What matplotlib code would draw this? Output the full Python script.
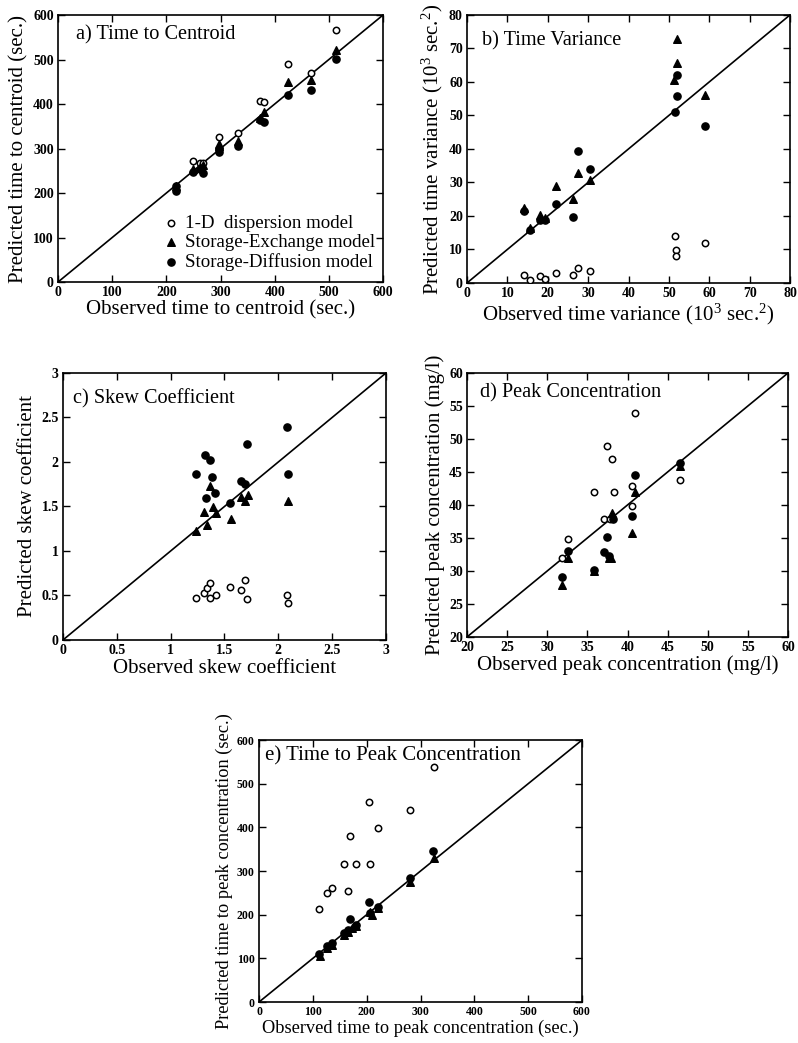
import matplotlib.pyplot as plt

plt.rcParams['font.family'] = ['Liberation Serif', 'DejaVu Serif']
plt.rcParams['mathtext.fontset'] = 'custom'
plt.rcParams['mathtext.rm'] = 'Liberation Serif'
plt.rcParams['mathtext.it'] = 'Liberation Serif:italic'

# a) Time to centroid (sec.)
a_obs_1d = [250, 262, 268, 297, 333, 372, 380, 425, 467, 513]
a_pred_1d = [271, 268, 268, 327, 336, 407, 405, 490, 469, 567]
a_obs_se = [218, 250, 262, 268, 297, 297, 333, 372, 380, 425, 467, 513]
a_pred_se = [215, 255, 258, 262, 305, 310, 318, 368, 383, 450, 453, 522]
a_obs_sd = [218, 218, 250, 262, 268, 297, 297, 333, 372, 380, 425, 467, 513]
a_pred_sd = [205, 215, 248, 255, 245, 293, 298, 306, 365, 360, 421, 432, 501]

# b) Time variance (10^3 sec.^2)
b_obs_1d = [14.2, 15.5, 18.1, 19.4, 22.1, 26.2, 27.4, 30.4, 51.5, 51.7, 51.7, 59.0]
b_pred_1d = [2.4, 1.0, 2.0, 1.2, 3.0, 2.4, 4.4, 3.5, 14.1, 9.9, 8.1, 11.8]
b_obs_se = [14.2, 15.5, 18.1, 19.4, 22.1, 26.2, 27.4, 30.4, 51.3, 52.0, 52.0, 59.0]
b_pred_se = [22.4, 16.3, 20.4, 19.4, 29.0, 25.0, 32.8, 30.8, 60.6, 65.6, 72.8, 56.2]
b_obs_sd = [14.2, 15.5, 18.1, 19.4, 22.1, 26.2, 27.4, 30.4, 51.5, 52.0, 52.0, 59.0]
b_pred_sd = [21.4, 15.9, 18.9, 18.9, 23.6, 19.7, 39.5, 34.0, 51.0, 55.9, 62.2, 46.7]

# c) Skew coefficient
c_obs_1d = [1.24, 1.31, 1.34, 1.37, 1.37, 1.42, 1.55, 1.65, 1.69, 1.71, 2.08, 2.09]
c_pred_1d = [0.47, 0.53, 0.58, 0.64, 0.47, 0.50, 0.60, 0.56, 0.67, 0.46, 0.50, 0.41]
c_obs_se = [1.24, 1.34, 1.31, 1.37, 1.39, 1.42, 1.56, 1.65, 1.69, 1.72, 2.09]
c_pred_se = [1.22, 1.29, 1.44, 1.73, 1.49, 1.43, 1.36, 1.61, 1.56, 1.63, 1.56]
c_obs_sd = [1.24, 1.315, 1.37, 1.38, 1.33, 1.41, 1.55, 1.65, 1.69, 1.71, 2.08, 2.09]
c_pred_sd = [1.87, 2.08, 2.02, 1.83, 1.60, 1.65, 1.54, 1.79, 1.75, 2.20, 2.39, 1.86]

# d) Peak concentration (mg/l)
d_obs_1d = [31.9, 32.6, 35.8, 37.1, 37.5, 37.8, 38.1, 38.3, 40.5, 40.5, 40.9, 46.5]
d_pred_1d = [31.9, 34.9, 41.9, 37.8, 48.9, 37.8, 46.9, 41.9, 42.9, 39.8, 54.0, 43.8]
d_obs_se = [31.9, 32.6, 35.8, 37.7, 37.9, 38.1, 40.5, 40.9, 46.5]
d_pred_se = [27.8, 32.0, 30.0, 32.0, 32.0, 38.8, 35.8, 41.9, 45.9]
d_obs_sd = [31.9, 32.6, 35.8, 37.1, 37.4, 37.7, 38.2, 40.5, 40.9, 46.5]
d_pred_sd = [29.1, 33.0, 30.1, 32.9, 35.2, 32.2, 37.9, 38.3, 44.6, 46.4]

# e) Time to peak concentration (sec.)
e_obs_1d = [112, 127, 136, 157, 165, 169, 180, 205, 207, 221, 281, 325]
e_pred_1d = [214, 250, 261, 317, 254, 380, 317, 459, 317, 399, 440, 539]
e_obs_se = [113, 127, 136, 157, 165, 172, 180, 206, 210, 221, 281, 325]
e_pred_se = [106, 123, 131, 153, 160, 170, 175, 205, 199, 216, 275, 329]
e_obs_sd = [112, 127, 136, 157, 165, 169, 180, 205, 207, 221, 281, 324]
e_pred_sd = [109, 128, 134, 157, 166, 189, 177, 229, 203, 218, 285, 346]

fig = plt.figure(figsize=(7.98, 10.43), dpi=100)


def panel(rect, lo, hi, step, title, xlabel, ylabel, data, tpos,
          lab=15, tick=10, ttl=14.6):
    ax = fig.add_axes(rect)
    ax.plot([lo, hi], [lo, hi], color='black', lw=1.2, zorder=1)
    (x1, y1), (x2, y2), (x3, y3) = data
    h1 = ax.scatter(x1, y1, s=21, facecolors='white', edgecolors='black', linewidths=1.1, zorder=3)
    h2 = ax.scatter(x2, y2, s=30, marker='^', color='black', zorder=3)
    h3 = ax.scatter(x3, y3, s=27, marker='o', color='black', zorder=3)
    ax.set_xlim(lo, hi)
    ax.set_ylim(lo, hi)
    ticks = []
    t = lo
    while t <= hi + 1e-9:
        ticks.append(round(t, 3))
        t += step
    ax.set_xticks(ticks)
    ax.set_yticks(ticks)
    ax.set_xticklabels(['%g' % v for v in ticks])
    ax.set_yticklabels(['%g' % v for v in ticks])
    ax.tick_params(direction='in', top=True, right=True, length=5, width=1,
                   labelsize=tick, pad=3)
    for lbl in ax.get_xticklabels() + ax.get_yticklabels():
        lbl.set_fontweight('bold')
    for sp in ax.spines.values():
        sp.set_linewidth(1.2)
    ax.set_xlabel(xlabel, fontsize=lab, labelpad=1)
    ax.set_ylabel(ylabel, fontsize=lab, labelpad=3)
    ax.text(tpos[0], tpos[1], title, transform=ax.transAxes, fontsize=ttl, va='top', ha='left')
    return ax, (h1, h2, h3)


ax_a, hs = panel([0.0727, 0.7296, 0.4073, 0.256], 0, 600, 100, 'a) Time to Centroid',
                 'Observed time to centroid (sec.)', 'Predicted time to centroid (sec.)',
                 [(a_obs_1d, a_pred_1d), (a_obs_se, a_pred_se), (a_obs_sd, a_pred_sd)],
                 (0.055, 0.96))
ax_a.legend(hs, ['1-D  dispersion model', 'Storage-Exchange model', 'Storage-Diffusion model'],
            loc='lower right', bbox_to_anchor=(1.01, 0.0), frameon=False, fontsize=13.6,
            handlelength=1.0, handletextpad=0.25, labelspacing=0.1, borderaxespad=0.2)

panel([0.5852, 0.7287, 0.4048, 0.257], 0, 80, 10, 'b) Time Variance',
      r'Observed time variance (10$^3$ sec.$^2$)', r'Predicted time variance (10$^3$ sec.$^2$)',
      [(b_obs_1d, b_pred_1d), (b_obs_se, b_pred_se), (b_obs_sd, b_pred_sd)],
      (0.045, 0.94))

panel([0.0789, 0.3864, 0.4048, 0.256], 0, 3, 0.5, 'c) Skew Coefficient',
      'Observed skew coefficient', 'Predicted skew coefficient',
      [(c_obs_1d, c_pred_1d), (c_obs_se, c_pred_se), (c_obs_sd, c_pred_sd)],
      (0.03, 0.94))

panel([0.5852, 0.3893, 0.4023, 0.2531], 20, 60, 5, 'd) Peak Concentration',
      'Observed peak concentration (mg/l)', 'Predicted peak concentration (mg/l)',
      [(d_obs_1d, d_pred_1d), (d_obs_se, d_pred_se), (d_obs_sd, d_pred_sd)],
      (0.04, 0.96))

panel([0.3246, 0.0393, 0.4048, 0.2512], 0, 600, 100, 'e) Time to Peak Concentration',
      'Observed time to peak concentration (sec.)', 'Predicted time to peak concentration (sec.)',
      [(e_obs_1d, e_pred_1d), (e_obs_se, e_pred_se), (e_obs_sd, e_pred_sd)],
      (0.02, 0.975), lab=13.2, tick=8.5, ttl=15)

plt.savefig('out.png', dpi=100)
